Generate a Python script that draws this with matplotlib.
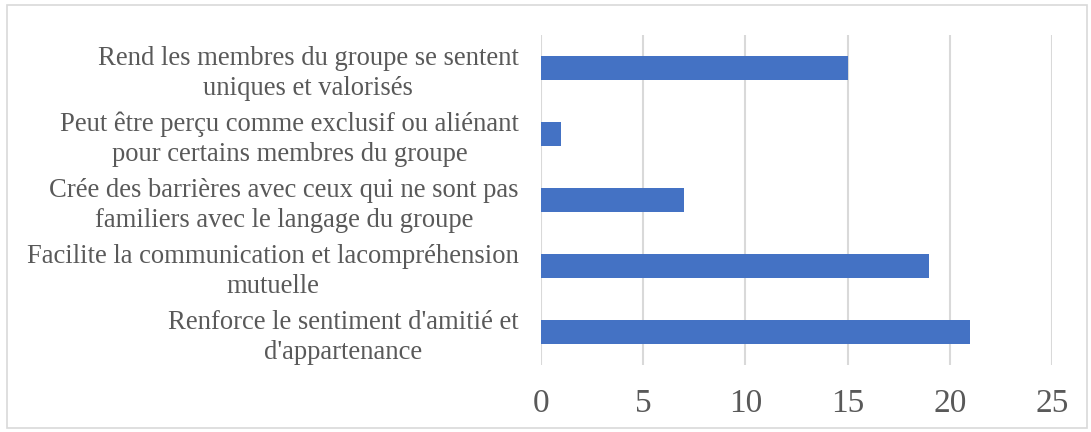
import matplotlib
matplotlib.use("Agg")
import matplotlib.pyplot as plt
from matplotlib.patches import Rectangle

# categories listed bottom to top, as matplotlib draws barh
categories = [
    "Renforce le sentiment d'amitié et\nd'appartenance",
    "Facilite la communication et lacompréhension\nmutuelle",
    "Crée des barrières avec ceux qui ne sont pas\nfamiliers avec le langage du groupe",
    "Peut être perçu comme exclusif ou aliénant\npour certains membres du groupe",
    "Rend les membres du groupe se sentent\nuniques et valorisés",
]
values = [21, 19, 7, 1, 15]
x_ticks = [0, 5, 10, 15, 20, 25]

plt.rcParams['font.family'] = ['Liberation Serif', 'DejaVu Serif']
grey = '#595959'

fig = plt.figure(figsize=(10.91, 4.32), dpi=100)
ax = fig.add_axes([541/1091, (432-365)/432, (1052-541)/1091, 330/432])

ax.barh(range(len(values)), values, height=0.36, color='#4472C4', zorder=3)

ax.set_xlim(0, 25)
ax.set_ylim(-0.5, len(values) - 0.5)
ax.set_xticks(x_ticks)
ax.set_yticks(range(len(categories)))
ax.set_yticklabels(categories, fontsize=19.2, color=grey,
                   multialignment='center', linespacing=1.25)
ax.tick_params(axis='x', length=0, pad=17, labelsize=24, labelcolor=grey)
ax.tick_params(axis='y', length=0, pad=16)
ax.grid(axis='x', color='#D9D9D9', linewidth=1.5, zorder=0)
for s in ax.spines.values():
    s.set_visible(False)

# thin frame around the whole chart
fig.patches.append(Rectangle((7/1091, 4/432), 1080/1091, 423/432,
                             transform=fig.transFigure, fill=False,
                             edgecolor='#D9D9D9', linewidth=1.2))

fig.savefig("out.png", dpi=100)
